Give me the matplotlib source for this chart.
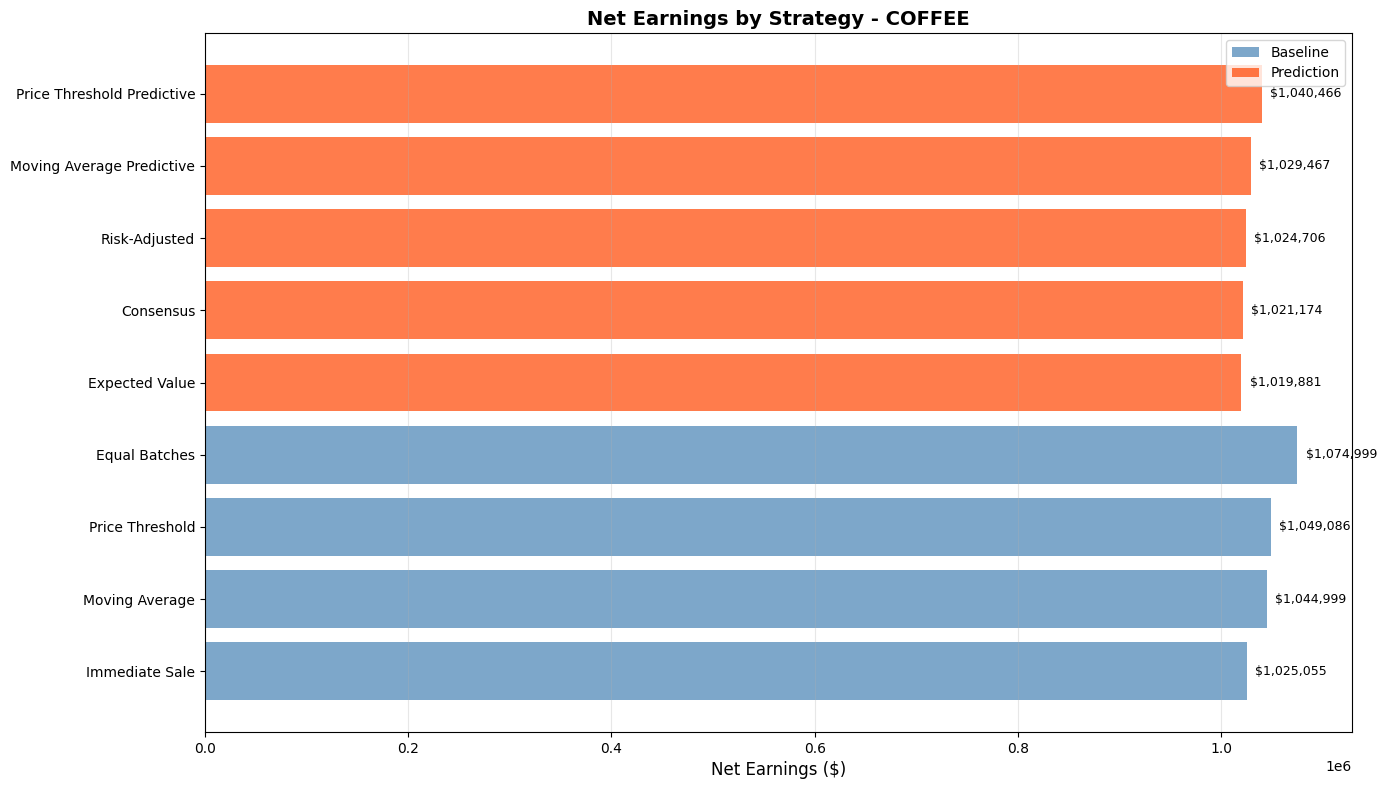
import matplotlib
matplotlib.use("Agg")
import matplotlib.pyplot as plt
from matplotlib.patches import Patch

strategies = ["Immediate Sale", "Moving Average", "Price Threshold", "Equal Batches",
              "Expected Value", "Consensus", "Risk-Adjusted",
              "Moving Average Predictive", "Price Threshold Predictive"]
earnings = [1025055, 1044999, 1049086, 1074999,
            1019881, 1021174, 1024706, 1029467, 1040466]
types = ["Baseline"] * 4 + ["Prediction"] * 5

color_map = {"Baseline": "steelblue", "Prediction": "orangered"}

fig, ax = plt.subplots(figsize=(13.87, 7.9), dpi=100)
ypos = list(range(len(strategies)))
colors = [color_map[t] for t in types]
ax.barh(ypos, earnings, color=colors, alpha=0.7)
ax.set_yticks(ypos)
ax.set_yticklabels(strategies)

for y, v in zip(ypos, earnings):
    ax.text(v + 8000, y, f"${v:,.0f}", va="center", fontsize=9)

handles = [Patch(facecolor=color_map[k], alpha=0.7, label=k) for k in ["Baseline", "Prediction"]]
ax.legend(handles=handles, loc="upper right")

ax.set_xlabel("Net Earnings ($)", fontsize=12)
ax.set_title("Net Earnings by Strategy - COFFEE", fontsize=14, fontweight="bold")
ax.grid(True, axis="x", alpha=0.3)
fig.subplots_adjust(left=0.1478, right=0.9748, top=0.9582, bottom=0.0734)
fig.savefig("out.png", dpi=100)
